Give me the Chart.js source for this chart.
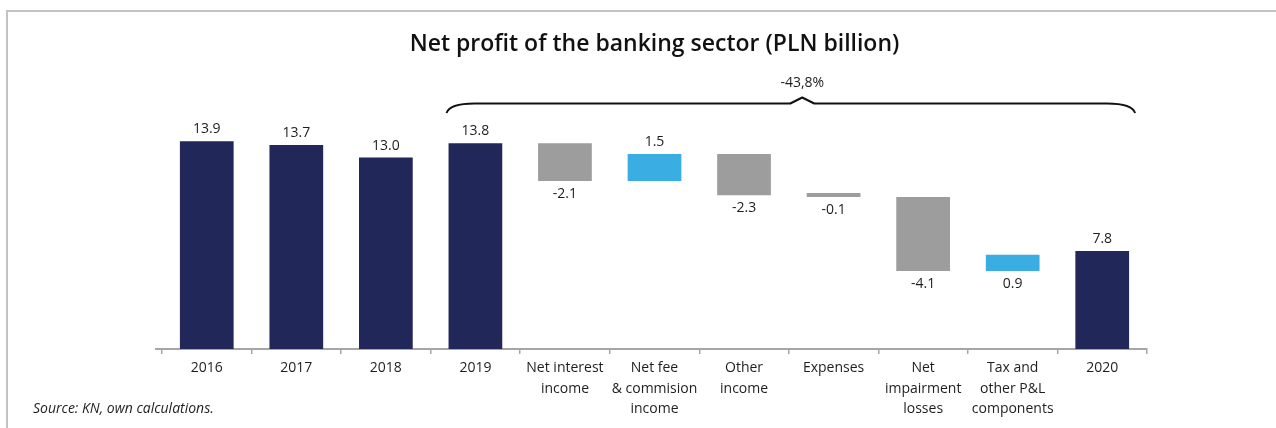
<!DOCTYPE html>
<html>
<head>
<meta charset="utf-8">
<script src="https://cdn.jsdelivr.net/npm/chart.js@4"></script>
<style>
  html, body { margin: 0; padding: 0; background: #ffffff; overflow: hidden; }
  #frame { position: absolute; left: 6px; top: 10px; width: 2000px; height: 1000px;
           border-top: 2px solid #c3c3c3; border-left: 2px solid #c3c3c3; box-sizing: border-box; }
  #c { position: absolute; left: 0; top: 0; }
</style>
</head>
<body>
<div id="frame"></div>
<canvas id="c" width="1276" height="428"></canvas>
<script>
// ---- data ----
const categories = [
  ['2016'], ['2017'], ['2018'], ['2019'],
  ['Net interest', 'income'],
  ['Net fee', '& commision', 'income'],
  ['Other', 'income'],
  ['Expenses'],
  ['Net', 'impairment', 'losses'],
  ['Tax and', 'other P&L', 'components'],
  ['2020']
];
const values = [13.9, 13.7, 13.0, 13.8, -2.1, 1.5, -2.3, -0.1, -4.1, 0.9, 7.8];
const isTotal = [true, true, true, true, false, false, false, false, false, false, true];
const labelBelow = [false, false, false, false, true, false, true, true, true, true, false];
const changeLabel = '-43,8%';
const titleText = 'Net profit of the banking sector (PLN billion)';
const sourceText = 'Source: KN, own calculations.';

const NAVY = '#222759', GRAY = '#9d9d9d', BLUE = '#3aade3';
const FONT = "'Open Sans', sans-serif";

// waterfall ranges built from the values
let running = 0;
const barData = values.map((v, i) => {
  if (isTotal[i]) { running = v; return v; }
  const start = running; running = running + v;
  return [start, running];
});
const barColors = values.map((v, i) => isTotal[i] ? NAVY : (v < 0 ? GRAY : BLUE));

const labelsPlugin = {
  id: 'valueLabels',
  afterDatasetsDraw(chart) {
    const ctx = chart.ctx;
    const meta = chart.getDatasetMeta(0);
    ctx.save();
    ctx.font = '14px ' + FONT;
    ctx.fillStyle = '#1e1e1e';
    ctx.textAlign = 'center';
    ctx.textBaseline = 'alphabetic';
    meta.data.forEach((el, i) => {
      const top = Math.min(el.y, el.base), bottom = Math.max(el.y, el.base);
      const txt = values[i].toFixed(1);
      if (labelBelow[i]) ctx.fillText(txt, el.x, bottom + 17);
      else ctx.fillText(txt, el.x, top - 8);
    });
    ctx.restore();
  }
};

const bracePlugin = {
  id: 'brace',
  afterDraw(chart) {
    const ctx = chart.ctx;
    const meta = chart.getDatasetMeta(0);
    const a = meta.data[3], b = meta.data[10];
    const x0 = a.x - a.width / 2 - 2;
    const x1 = b.x + b.width / 2 + 6;
    const xs = chart.scales.x;
    const xp = xs.getPixelForValue(6.65);
    const yl = 103.5, yt = 113, yp = 97.5;
    ctx.save();
    ctx.strokeStyle = '#111111';
    ctx.lineWidth = 2;
    ctx.lineJoin = 'round';
    ctx.beginPath();
    ctx.moveTo(x0, yt);
    ctx.quadraticCurveTo(x0 + 3, yl, x0 + 28, yl);
    ctx.lineTo(xp - 12, yl);
    ctx.lineTo(xp, yp);
    ctx.lineTo(xp + 12, yl);
    ctx.lineTo(x1 - 28, yl);
    ctx.quadraticCurveTo(x1 - 3, yl, x1, yt);
    ctx.stroke();
    ctx.font = '14px ' + FONT;
    ctx.fillStyle = '#1e1e1e';
    ctx.textAlign = 'center';
    ctx.textBaseline = 'alphabetic';
    ctx.fillText(changeLabel, xp, 87);
    // axis line stub left of first tick
    const ca = chart.chartArea;
    ctx.strokeStyle = '#a6a6a6';
    ctx.lineWidth = 2;
    ctx.beginPath();
    ctx.moveTo(ca.left - 7, ca.bottom);
    ctx.lineTo(ca.left, ca.bottom);
    ctx.stroke();
    // source note
    ctx.font = 'italic 14px ' + FONT;
    ctx.textAlign = 'left';
    ctx.fillText(sourceText, 33, 413);
    ctx.restore();
  }
};

new Chart(document.getElementById('c'), {
  type: 'bar',
  data: {
    labels: categories,
    datasets: [{
      data: barData,
      backgroundColor: barColors,
      borderWidth: 0,
      barPercentage: 0.6,
      categoryPercentage: 1.0,
      minBarLength: 4
    }]
  },
  options: {
    responsive: false,
    animation: false,
    layout: { padding: { left: 162, right: 129, top: 0, bottom: 0 } },
    plugins: {
      legend: { display: false },
      tooltip: { enabled: false },
      title: {
        display: true,
        text: titleText,
        color: '#111111',
        font: { family: FONT, size: 23, weight: '600', lineHeight: 1.2 },
        padding: { top: 31, bottom: 26.4 }
      }
    },
    scales: {
      x: {
        afterFit(axis) { axis.height = 79; },
        grid: { display: true, drawOnChartArea: false, drawTicks: true, tickLength: 5,
                color: '#a6a6a6', lineWidth: 1.5, offset: true },
        border: { display: true, color: '#a6a6a6', width: 2 },
        ticks: { color: '#1e1e1e', padding: 4, maxRotation: 0, autoSkip: false,
                 font: { family: FONT, size: 14, lineHeight: 1.46 } }
      },
      y: {
        display: false,
        min: 2.36,
        max: 17.03
      }
    }
  },
  plugins: [labelsPlugin, bracePlugin]
});
</script>
</body>
</html>
